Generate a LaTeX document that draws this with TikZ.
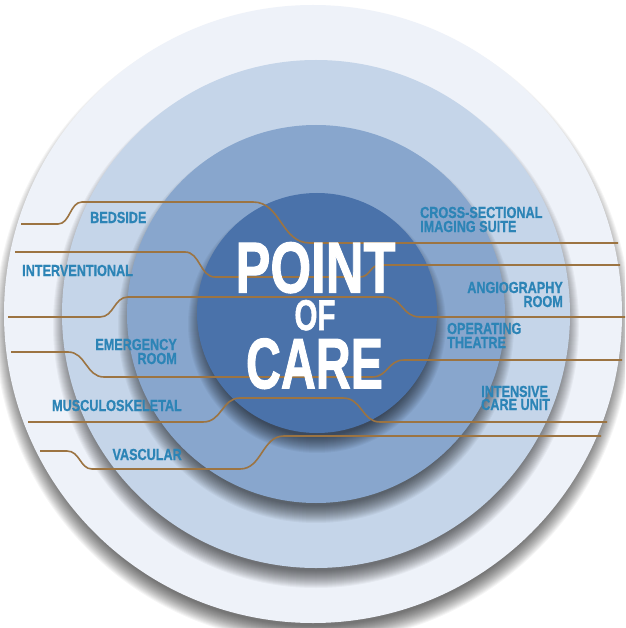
\documentclass[tikz,border=0pt]{standalone}
\usepackage{fontspec}
\usepackage{graphicx}
\newfontfamily\labelfont[FakeStretch=0.79,BoldFeatures={FakeBold=0.8}]{Liberation Sans}
\newfontfamily\titlefont[BoldFeatures={FakeBold=1.6}]{Liberation Sans}
\definecolor{ringA}{RGB}{238,242,249}
\definecolor{ringB}{RGB}{197,213,233}
\definecolor{ringC}{RGB}{136,166,205}
\definecolor{ringD}{RGB}{74,114,170}
\definecolor{lblcol}{RGB}{44,132,182}
\definecolor{wirecol}{RGB}{156,116,66}
\newcommand\ringshadow[3]{%
  \foreach \k in {1,...,18}{%
    \pgfmathsetmacro\rr{#3-9+\k}%
    \fill[black,opacity=0.04] (#1,#2+11) circle[radius=\rr pt];}}
\begin{document}
\begin{tikzpicture}[x=1pt,y=-1pt,
  lbl/.style={font=\labelfont\bfseries\fontsize{16}{16}\selectfont, text=lblcol, inner sep=0pt},
  wire/.style={draw=wirecol, line width=1.6pt},
  ttl/.style={text=white, inner sep=0pt}]
\clip (0,0) rectangle (625,628);
\fill[white] (0,0) rectangle (625,628);
% rings
\ringshadow{313}{314}{309}
\fill[ringA] (313,314) circle[radius=309pt];
\ringshadow{316}{314}{254}
\fill[ringB] (316,314) circle[radius=254pt];
\ringshadow{316}{314}{189}
\fill[ringC] (316,314) circle[radius=189pt];
\ringshadow{317}{313}{120}
\fill[ringD] (317,313) circle[radius=120pt];
% wires
\draw[wire] (21,224) -- (58,224) .. controls (70,224) and (70,202) .. (82,202) -- (253,202) .. controls (281,202) and (281,243) .. (310,243) -- (618,243);
\draw[wire] (15,252) -- (185,252) .. controls (200,252) and (200,277) .. (215,277) -- (360,277) .. controls (370,277) and (370,265) .. (380,265) -- (620,265);
\draw[wire] (8,317) -- (100,317) .. controls (114,317) and (114,297) .. (128,297) -- (385,297) .. controls (402,297) and (402,317) .. (420,317) -- (625,317);
\draw[wire] (11,352) -- (68,352) .. controls (86,352) and (86,377) .. (104,377) -- (372,377) .. controls (388,377) and (388,360) .. (404,360) -- (622,360);
\draw[wire] (28,422) -- (203,422) .. controls (222,422) and (222,398) .. (240,398) -- (343,398) .. controls (362,398) and (362,422) .. (380,422) -- (607,422);
\draw[wire] (40,451) -- (67,451) .. controls (80,451) and (80,469) .. (92,469) -- (240,469) .. controls (262,469) and (262,436) .. (284,436) -- (601,436);
% labels
\node[lbl, anchor=base west] (bed) at (90,223) {BEDSIDE};
\node[lbl, anchor=base west] (intv) at (22,276) {INTERVENTIONAL};
\node[lbl, anchor=base east] (em1) at (177,350) {EMERGENCY};
\node[lbl, anchor=base east] (em2) at (177,364) {ROOM};
\node[lbl, anchor=base east] (msk) at (182,411) {MUSCULOSKELETAL};
\node[lbl, anchor=base east] (vas) at (182,460) {VASCULAR};
\node[lbl, anchor=base west] (cs1) at (420,218) {CROSS-SECTIONAL};
\node[lbl, anchor=base west] (cs2) at (420,232) {IMAGING SUITE};
\node[lbl, anchor=base east] (an1) at (563,293) {ANGIOGRAPHY};
\node[lbl, anchor=base east] (an2) at (563,307) {ROOM};
\node[lbl, anchor=base west] (op1) at (447,334) {OPERATING};
\node[lbl, anchor=base west] (op2) at (447,348) {THEATRE};
\node[lbl, anchor=base west] (ic1) at (481,397) {INTENSIVE};
\node[lbl, anchor=base west] (ic2) at (481,410) {CARE UNIT};
% title
\node[ttl, anchor=base] (t1) at (315.5,292.5) {\resizebox{160pt}{\height}{\titlefont\bfseries\fontsize{72}{72}\selectfont POINT}};
\node[ttl, anchor=base] (t2) at (315,330) {\resizebox{41pt}{\height}{\titlefont\bfseries\fontsize{43}{43}\selectfont OF}};
\node[ttl, anchor=base] (t3) at (314.5,388.3) {\resizebox{137pt}{\height}{\titlefont\bfseries\fontsize{71.5}{71.5}\selectfont CARE}};
\end{tikzpicture}
\end{document}
